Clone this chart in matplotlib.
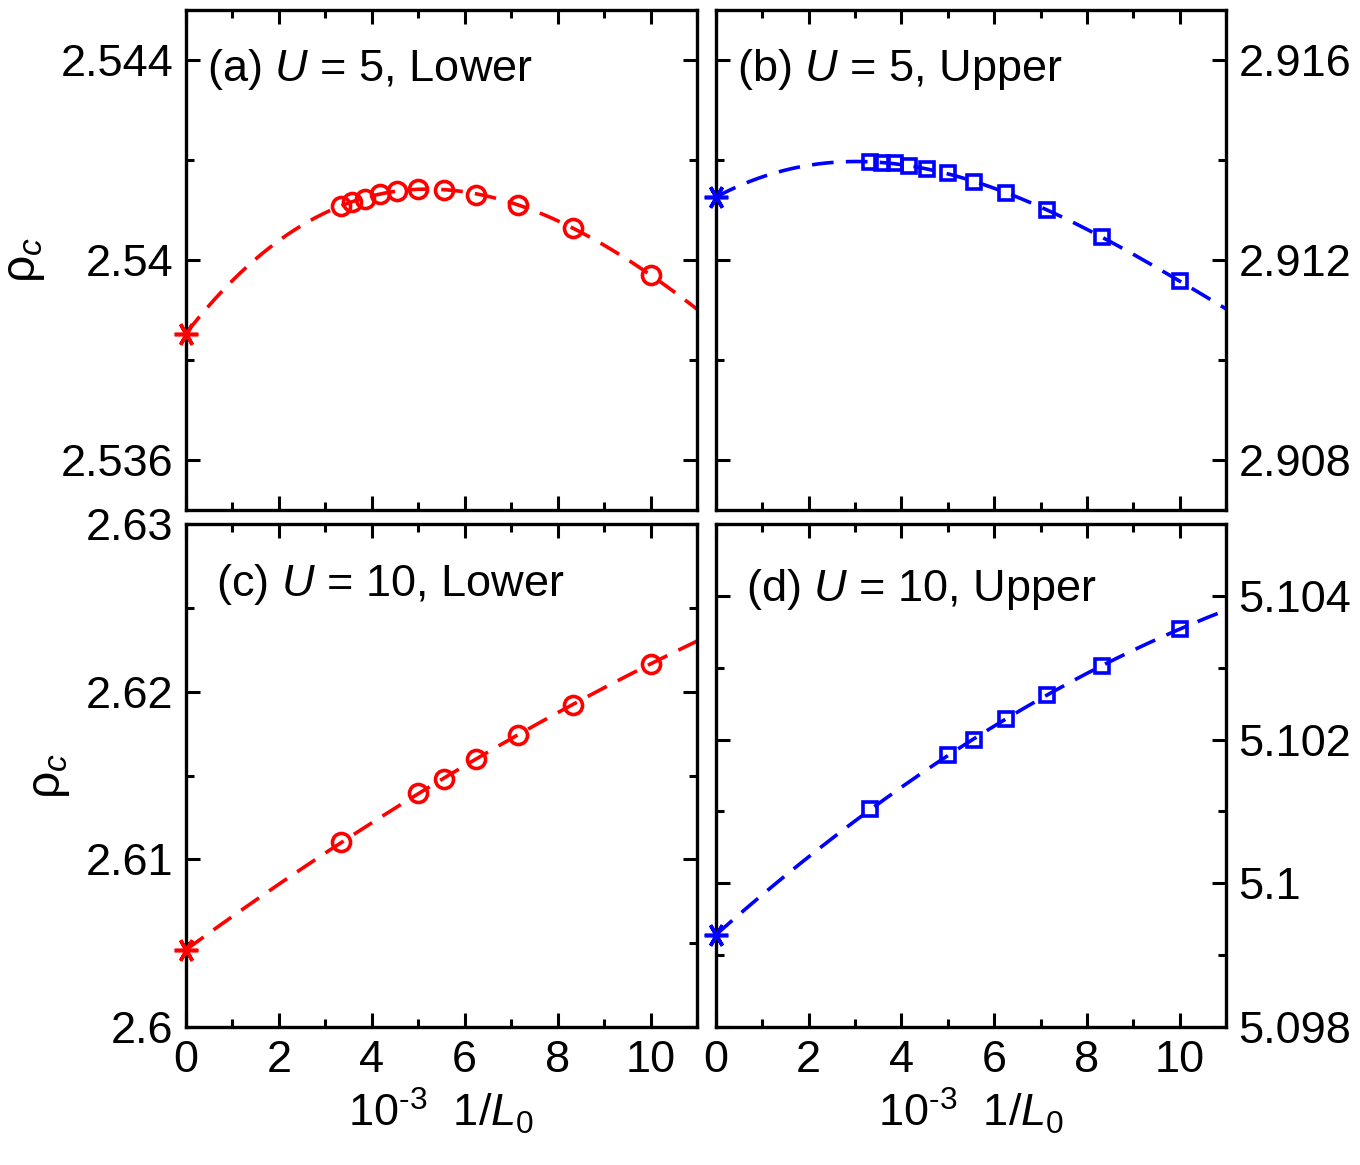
import numpy as np
import matplotlib
matplotlib.use("Agg")
import matplotlib.pyplot as plt
from matplotlib.ticker import MultipleLocator, FuncFormatter

plt.rcParams['font.family'] = ['Liberation Sans', 'DejaVu Sans']
plt.rcParams['mathtext.fontset'] = 'custom'
plt.rcParams['mathtext.rm'] = 'Liberation Sans'
plt.rcParams['mathtext.it'] = 'Liberation Sans:italic'
plt.rcParams['mathtext.bf'] = 'Liberation Sans:bold'

# ---- data (x = 10^3 / L0) ----
x_ab = [3.33, 3.57, 3.85, 4.17, 4.55, 5.0, 5.56, 6.25, 7.14, 8.33, 10.0]
a_y = [2.54109, 2.54116, 2.54122, 2.54132, 2.54139, 2.54143, 2.54141, 2.54130, 2.54111, 2.54064, 2.53970]
a_star = 2.53853
b_y = [2.91396, 2.91394, 2.91393, 2.91389, 2.91382, 2.91373, 2.91357, 2.91335, 2.91300, 2.91245, 2.91158]
b_star = 2.91326

x_cd = [3.33, 5.0, 5.56, 6.25, 7.14, 8.33, 10.0]
c_y = [2.61101, 2.61393, 2.61482, 2.61601, 2.61740, 2.61923, 2.62167]
c_star = 2.60460
d_y = [5.10104, 5.10178, 5.10200, 5.10228, 5.10262, 5.10303, 5.10354]
d_star = 5.09928

panel_texts = [r"(a) $U$ = 5, Lower", r"(b) $U$ = 5, Upper",
               r"(c) $U$ = 10, Lower", r"(d) $U$ = 10, Upper"]

W, H = 1360, 1165
fig = plt.figure(figsize=(W / 100, H / 100), dpi=100)

def px_axes(x0, x1, y0, y1):
    return fig.add_axes([x0 / W, 1 - y1 / H, (x1 - x0) / W, (y1 - y0) / H])

ax_a = px_axes(186, 697, 10, 510)
ax_b = px_axes(716, 1226, 10, 510)
ax_c = px_axes(186, 697, 524, 1027)
ax_d = px_axes(716, 1226, 524, 1027)

FS = 32.5
LW = 2.6
panels = [
    (ax_a, x_ab, a_y, a_star, 'red', 'o', 3, (2.535, 2.545), 0.004, 0.002, 'left'),
    (ax_b, x_ab, b_y, b_star, 'blue', 's', 3, (2.907, 2.917), 0.004, 0.002, 'right'),
    (ax_c, x_cd, c_y, c_star, 'red', 'o', 2, (2.600, 2.630), 0.01, 0.005, 'left'),
    (ax_d, x_cd, d_y, d_star, 'blue', 's', 2, (5.098, 5.105), 0.002, 0.001, 'right'),
]

for i, (ax, xs, ys, star, col, mk, deg, ylim, maj, mnr, side) in enumerate(panels):
    xx = np.array([0.0] + list(xs))
    yy = np.array([star] + list(ys))
    coef = np.polyfit(xx, yy, deg)
    xf = np.linspace(0, 11, 300)
    ax.plot(xf, np.polyval(coef, xf), color=col, lw=LW, ls=(0, (6.0, 3.4)), zorder=2)
    ms = 13 if mk == 'o' else 10.5
    ax.plot(xs, ys, ls='none', marker=mk, ms=ms, mfc='none', mec=col, mew=2.6, zorder=3)
    ax.plot([0], [star], ls='none', marker=(6, 2, 90), ms=17, mec=col, mew=2.6,
            zorder=4, clip_on=False)
    ax.set_xlim(0, 11)
    ax.set_ylim(*ylim)
    ax.xaxis.set_major_locator(MultipleLocator(2))
    ax.xaxis.set_minor_locator(MultipleLocator(1))
    ax.yaxis.set_major_locator(MultipleLocator(maj))
    ax.yaxis.set_minor_locator(MultipleLocator(mnr))
    ax.yaxis.set_major_formatter(FuncFormatter(lambda v, p: '%g' % round(v, 4)))
    for sp in ax.spines.values():
        sp.set_linewidth(2.4)
    ax.tick_params(which='both', direction='in', top=True, bottom=True, left=True, right=True,
                   width=2.2, labelsize=FS, pad=9)
    ax.tick_params(which='major', length=10)
    ax.tick_params(which='minor', length=6)
    if side == 'right':
        ax.tick_params(labelleft=False, labelright=True)
    if i < 2:
        ax.tick_params(labelbottom=False)
    else:
        ax.set_xlabel("10$^{\\mathregular{\u2010}3}$  $\\mathit{1/L}_{\\mathrm{0}}$",
                      fontsize=FS, labelpad=4)
    if side == 'left':
        ax.set_ylabel(r"ρ$_{c}$", fontsize=FS + 2, labelpad=10)
    tx = 0.041 if i < 2 else 0.059
    ty = 0.88 if i < 2 else (0.879 if i == 2 else 0.870)
    ax.text(tx, ty, panel_texts[i], transform=ax.transAxes, fontsize=FS,
            ha='left', va='center')

fig.savefig("out.png", dpi=100)
